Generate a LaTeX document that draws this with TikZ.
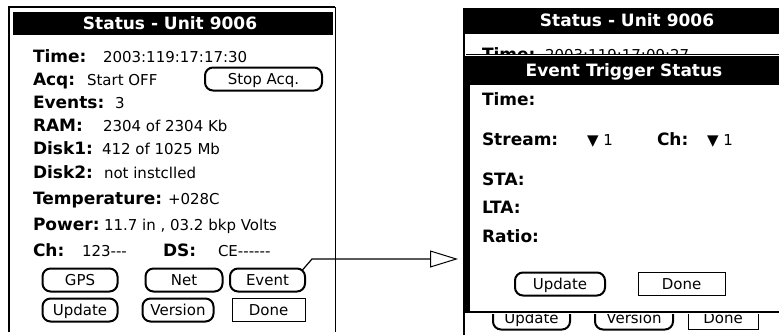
\documentclass[tikz,border=0pt]{standalone}
\usepackage{fontspec}
\setmainfont{DejaVu Sans}
\usetikzlibrary{arrows.meta}
\begin{document}
\begin{tikzpicture}[x=1pt,y=-1pt,
  every node/.style={inner sep=0pt,outer sep=0pt},
  lbl/.style={anchor=west,text height=11pt,text depth=0pt,font=\fontsize{17}{19}\selectfont\bfseries},
  val/.style={anchor=west,text height=11pt,text depth=0pt,font=\fontsize{15}{17}\selectfont},
  ttl/.style={text height=11pt,text depth=0pt,font=\fontsize{17}{19}\selectfont\bfseries,text=white},
  rbtn/.style={draw,line width=2pt,rounded corners=8pt,minimum height=23pt,text height=11pt,text depth=0pt,font=\fontsize{15}{17}\selectfont},
  sbtn/.style={draw,line width=1pt,minimum height=23pt,text height=11pt,text depth=0pt,font=\fontsize{15}{17}\selectfont},
  frame/.style={line width=1.5pt},
  conn/.style={line width=1.2pt,-{Triangle[open,length=28pt,width=17pt,line width=1pt]}}
]
\useasboundingbox (0,0) rectangle (779,335);
% ---------------- left screen ----------------
\draw[frame] (9,332) -- (9,7) -- (335,7);
\draw[line width=1pt] (335,7) -- (335,332);
\fill (13,12) rectangle (333,35);
\node[ttl] (lt) at (170,23.5) {Status - Unit 9006};
\node[lbl] (l1) at (33,57) {Time:};
\node[val] (v1) at (103,57) {2003:119:17:17:30};
\node[lbl] (l2) at (33,80) {Acq:};
\node[val] (v2) at (87,80) {Start OFF};
\node[rbtn,minimum width=117pt] (stop) at (263.5,79) {Stop Acq.};
\node[lbl] (l3) at (33,103) {Events:};
\node[val] (v3) at (115,103) {3};
\node[lbl] (l4) at (33,126) {RAM:};
\node[val] (v4) at (103,126) {2304 of 2304 Kb};
\node[lbl] (l5) at (33,149) {Disk1:};
\node[val] (v5) at (102,149) {412 of 1025 Mb};
\node[lbl] (l6) at (33,173) {Disk2:};
\node[val] (v6) at (104,173) {not instclled};
\node[lbl] (l7) at (33,199) {Temperature:};
\node[val] (v7) at (168,199) {+028C};
\node[lbl] (l8) at (33,225) {Power:};
\node[val] (v8) at (104,225) {11.7 in , 03.2 bkp Volts};
\node[lbl] (l9) at (33,251) {Ch:};
\node[val] (v9) at (82,251) {123-{}-{}-};
\node[lbl] (l10) at (163,251) {DS:};
\node[val] (v10) at (218,251) {CE-{}-{}-{}-{}-{}-};
\node[rbtn,minimum width=75pt] (gps) at (80,280) {GPS};
\node[rbtn,minimum width=77pt] (net) at (184,280) {Net};
\node[rbtn,minimum width=75pt] (ev) at (267.5,280) {Event};
\node[rbtn,minimum width=75pt] (upd) at (80,310) {Update};
\node[rbtn,minimum width=71pt] (ver) at (178,310) {Version};
\node[sbtn,minimum width=73pt] (done) at (268.5,310) {Done};
% ---------------- right screen ----------------
\draw[frame] (464,335) -- (464,8);
\fill (464,8) rectangle (779,34);
\node[ttl] (rt) at (627,21) {Status - Unit 9006};
\begin{scope}
\clip (466,36) rectangle (779,53);
\node[lbl] (rl1) at (482,55) {Time:};
\node[val] (rv1) at (545,55) {2003:119:17:09:27};
\end{scope}
% partial buttons under popup
\begin{scope}
\clip (466,314) rectangle (779,335);
\node[rbtn,minimum width=77pt] (rupd) at (531.5,318) {Update};
\node[rbtn,minimum width=78pt] (rver) at (634,318) {Version};
\node[sbtn,minimum width=70pt] (rdone) at (723,318) {Done};
\end{scope}
% popup
\fill[white] (466,54) rectangle (779,312);
\draw[line width=1pt] (466,54) -- (779,54);
\fill (469,56) rectangle (779,85);
\node[ttl] (pt) at (624,70.5) {Event Trigger Status};
\fill (463,56) rectangle (470,313);
\draw[line width=2pt] (463,312) -- (779,312);
\node[lbl] (p1) at (482,100) {Time:};
\node[lbl] (p2) at (482,140) {Stream:};
\node[val] (p2v) at (587,140) {▼ 1};
\node[lbl] (p3) at (657,140) {Ch:};
\node[val] (p3v) at (707,140) {▼ 1};
\node[lbl] (p4) at (482,180) {STA:};
\node[lbl] (p5) at (482,208) {LTA:};
\node[lbl] (p6) at (482,237) {Ratio:};
\node[rbtn,minimum width=90pt] (pupd) at (560,284) {Update};
\node[sbtn,minimum width=87pt] (pdone) at (681.5,284) {Done};
% connector
\coordinate (tip) at (458,259);
\draw[conn] ([shift={(-3,2)}]ev.north east) -- (312,259) -- (tip);
\end{tikzpicture}
\end{document}
